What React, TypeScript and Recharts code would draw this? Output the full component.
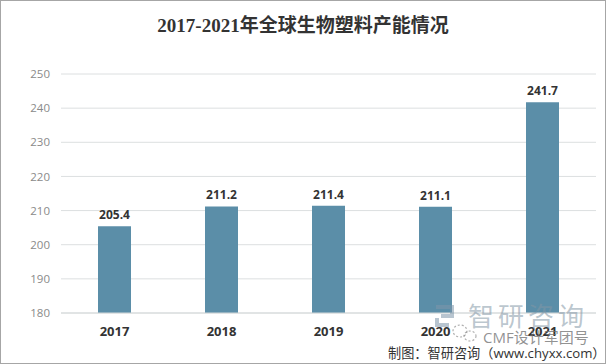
import { BarChart, Bar, XAxis, YAxis, CartesianGrid, LabelList } from 'recharts'

const years = ['2017', '2018', '2019', '2020', '2021']
const capacity = [205.4, 211.2, 211.4, 211.1, 241.7]
const yTicks = [180, 190, 200, 210, 220, 230, 240, 250]

const data = years.map((year, i) => ({ year, capacity: capacity[i] }))

const sans = '"Open Sans", "Noto Sans CJK SC", sans-serif'

// faint watermark logo and the chat icon next to the account name
function Watermark() {
  return (
    <svg
      width={606}
      height={364}
      style={{ position: 'absolute', left: 0, top: 0, pointerEvents: 'none' }}
    >
      <g fill="none" stroke="rgba(125,150,170,0.55)" strokeWidth={4}>
        <path d="M436 307 H452 V316 H441" />
        <path d="M437 318 V325 H449" />
      </g>
      <g fill="none" stroke="rgba(120,120,120,0.6)" strokeWidth={1.2} strokeDasharray="2 2">
        <ellipse cx={460} cy={331} rx={7} ry={6} />
        <ellipse cx={470} cy={336} rx={6} ry={5} />
      </g>
    </svg>
  )
}

export default function App() {
  return (
    <div
      style={{
        position: 'fixed',
        left: 0,
        top: 0,
        width: 606,
        height: 364,
        background: '#fff',
        overflow: 'hidden',
      }}
    >
      <BarChart
        width={606}
        height={364}
        data={data}
        margin={{ top: 74, right: 10, left: 0, bottom: 21 }}
      >
        <CartesianGrid vertical={false} stroke="#dcdfe0" strokeWidth={1} />
        <XAxis
          dataKey="year"
          tickLine={false}
          axisLine={{ stroke: '#d5d9da' }}
          tick={{ fontSize: 13, fontWeight: 700, fill: '#333', fontFamily: sans }}
          tickMargin={8}
        />
        <YAxis
          width={61}
          domain={[180, 250]}
          ticks={yTicks}
          interval={0}
          tickLine={false}
          axisLine={false}
          tick={{ fontSize: 11.5, fill: '#8a8a8a', fontFamily: sans }}
          tickMargin={5}
        />
        <Bar dataKey="capacity" fill="#5b8ea8" barSize={33} isAnimationActive={false}>
          <LabelList
            dataKey="capacity"
            position="top"
            offset={7}
            style={{ fontSize: 12, fontWeight: 700, fill: '#333', fontFamily: sans }}
          />
        </Bar>
      </BarChart>

      <div
        style={{
          position: 'absolute',
          left: 0,
          right: 0,
          top: 14,
          textAlign: 'center',
          fontSize: 19,
          fontWeight: 700,
          color: '#333',
          fontFamily: '"Liberation Serif", "Noto Sans CJK SC", serif',
          lineHeight: '24px',
        }}
      >
        2017-2021年全球生物塑料产能情况
      </div>

      <Watermark />
      <div
        style={{
          position: 'absolute',
          left: 468,
          top: 297,
          fontSize: 26,
          letterSpacing: 4,
          color: 'rgba(130,150,165,0.55)',
          fontFamily: '"Noto Sans CJK SC", sans-serif',
          lineHeight: '36px',
          whiteSpace: 'nowrap',
        }}
      >
        智研咨询
      </div>
      <div
        style={{
          position: 'absolute',
          left: 483,
          top: 328,
          fontSize: 15,
          color: 'rgba(110,110,110,0.75)',
          fontFamily: sans,
          lineHeight: '18px',
          whiteSpace: 'nowrap',
        }}
      >
        CMF设计军团号
      </div>
      <div
        style={{
          position: 'absolute',
          left: 388,
          top: 344,
          fontSize: 13.2,
          color: '#333',
          fontFamily: sans,
          lineHeight: '18px',
          whiteSpace: 'nowrap',
        }}
      >
        制图：智研咨询（www.chyxx.com）
      </div>

      <div
        style={{
          position: 'absolute',
          inset: 0,
          border: '1px solid #a6a6a6',
          pointerEvents: 'none',
        }}
      />
    </div>
  )
}
